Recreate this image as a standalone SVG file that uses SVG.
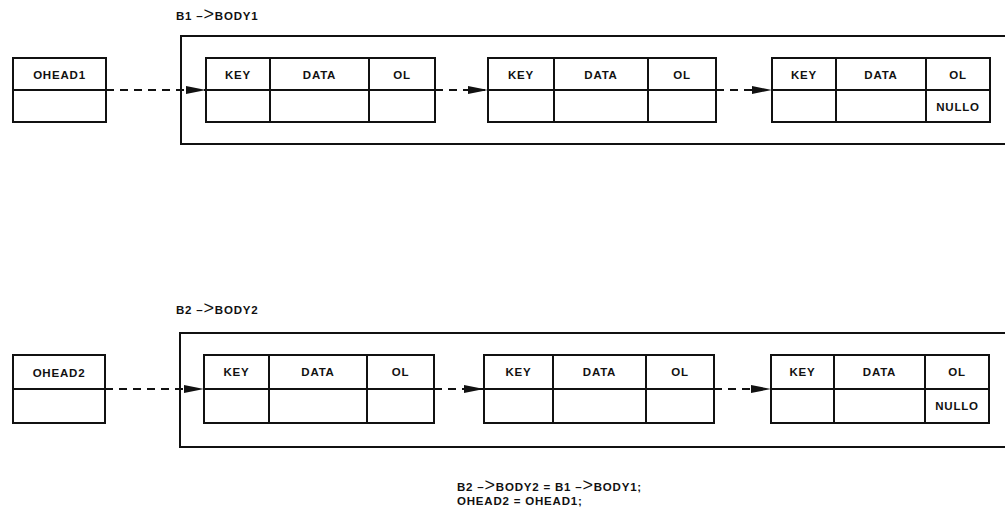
<svg xmlns="http://www.w3.org/2000/svg" width="1005" height="517" viewBox="0 0 1005 517">
<defs>
<style>
.box{fill:none;stroke:#111;stroke-width:2}
.ln{stroke:#111;stroke-width:2;fill:none}
.t{font-family:"Liberation Sans",Arial,sans-serif;font-weight:bold;font-size:11.5px;fill:#111;letter-spacing:0.8px}
.c{text-anchor:middle}
.conn{stroke:#111;stroke-width:2;stroke-dasharray:8 6;fill:none}
.gt{font-weight:normal;font-size:18px}
</style>
<marker id="ah" viewBox="0 0 20 10" refX="20" refY="5" markerWidth="20" markerHeight="10" markerUnits="userSpaceOnUse" orient="auto">
<path d="M0,1 L20,5 L0,9 Z" fill="#111"/>
</marker>
</defs>
<rect width="1005" height="517" fill="#fff"/>

<text class="t" x="176" y="20">B1 –<tspan class="gt">&gt;</tspan>BODY1</text>
<text class="t" x="176" y="314">B2 –<tspan class="gt">&gt;</tspan>BODY2</text>

<g id="body1">
<path class="ln" d="M1005,36 H181 V144 H1005"/>
</g>
<g id="body2">
<path class="ln" d="M1005,333 H180 V447 H1005"/>
</g>

<g id="ohead1">
<rect class="box" x="13" y="58" width="93" height="64"/>
<line class="ln" x1="13" y1="90" x2="106" y2="90"/>
<text class="t c" x="59.5" y="79">OHEAD1</text>
</g>
<g id="node1a">
<rect class="box" x="206" y="58" width="229" height="64"/>
<path class="ln" d="M206,90 H435 M270,58 V122 M369,58 V122"/>
<text class="t c" x="238" y="79">KEY</text>
<text class="t c" x="319.5" y="79">DATA</text>
<text class="t c" x="402" y="79">OL</text>
</g>
<g id="node1b">
<rect class="box" x="488" y="58" width="228" height="64"/>
<path class="ln" d="M488,90 H716 M554,58 V122 M648,58 V122"/>
<text class="t c" x="521" y="79">KEY</text>
<text class="t c" x="601" y="79">DATA</text>
<text class="t c" x="682" y="79">OL</text>
</g>
<g id="node1c">
<rect class="box" x="772" y="58" width="218" height="64"/>
<path class="ln" d="M772,90 H990 M836,58 V122 M926,58 V122"/>
<text class="t c" x="804" y="79">KEY</text>
<text class="t c" x="881" y="79">DATA</text>
<text class="t c" x="958" y="79">OL</text>
<text class="t c" x="958" y="111">NULLO</text>
</g>

<g id="ohead2">
<rect class="box" x="13" y="355" width="92" height="68"/>
<line class="ln" x1="13" y1="389" x2="105" y2="389"/>
<text class="t c" x="59" y="377">OHEAD2</text>
</g>
<g id="node2a">
<rect class="box" x="204" y="355" width="230" height="68"/>
<path class="ln" d="M204,389 H434 M269,355 V423 M367,355 V423"/>
<text class="t c" x="236.5" y="376">KEY</text>
<text class="t c" x="318" y="376">DATA</text>
<text class="t c" x="400.5" y="376">OL</text>
</g>
<g id="node2b">
<rect class="box" x="484" y="355" width="230" height="68"/>
<path class="ln" d="M484,389 H714 M553,355 V423 M646,355 V423"/>
<text class="t c" x="518.5" y="376">KEY</text>
<text class="t c" x="599.5" y="376">DATA</text>
<text class="t c" x="680" y="376">OL</text>
</g>
<g id="node2c">
<rect class="box" x="771" y="355" width="218" height="68"/>
<path class="ln" d="M771,389 H989 M834,355 V423 M925,355 V423"/>
<text class="t c" x="802.5" y="376">KEY</text>
<text class="t c" x="879.5" y="376">DATA</text>
<text class="t c" x="957" y="376">OL</text>
<text class="t c" x="957" y="410">NULLO</text>
</g>

<g id="connectors">
<line class="conn" x1="106" y1="90" x2="206" y2="90" marker-end="url(#ah)"/>
<line class="conn" x1="435" y1="90" x2="488" y2="90" marker-end="url(#ah)"/>
<line class="conn" x1="716" y1="90" x2="772" y2="90" marker-end="url(#ah)"/>
<line class="conn" x1="105" y1="389" x2="204" y2="389" marker-end="url(#ah)"/>
<line class="conn" x1="434" y1="389" x2="484" y2="389" marker-end="url(#ah)"/>
<line class="conn" x1="714" y1="389" x2="771" y2="389" marker-end="url(#ah)"/>
</g>

<text class="t" x="457" y="491">B2 –<tspan class="gt">&gt;</tspan>BODY2 = B1 –<tspan class="gt">&gt;</tspan>BODY1;</text>
<text class="t" x="457" y="505">OHEAD2 = OHEAD1;</text>
</svg>
